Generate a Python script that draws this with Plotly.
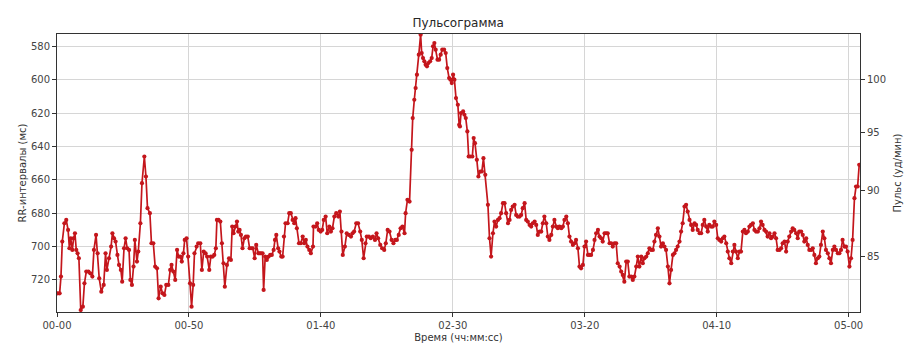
import plotly.graph_objects as go

# ---- data (time in seconds, RR-interval in ms) ----
time_s = [
    0.3, 1.0, 1.5, 2.0, 2.8, 3.5, 4.2, 4.7, 5.2, 5.8, 6.3, 6.8, 7.3, 7.8, 8.3, 9.0, 9.8, 10.4, 11.1, 11.9,
    12.6, 13.4, 14.0, 14.8, 15.4, 16.0, 16.8, 17.7, 18.4, 18.9, 19.7, 20.5, 21.0, 21.6, 22.2, 22.9, 23.5, 24.2, 24.7, 25.4,
    26.0, 26.6, 27.3, 27.8, 28.4, 29.0, 29.5, 30.3, 30.8, 31.6, 32.2, 33.1, 33.7, 34.3, 35.2, 35.8, 36.5, 37.2, 37.9, 38.5,
    39.3, 40.0, 40.7, 41.4, 42.2, 42.9, 43.4, 44.1, 44.8, 45.5,
    46.1, 46.7, 47.3, 47.9, 48.4, 49.1, 49.7, 50.4, 51.0, 51.6,
    52.1, 52.9, 53.5, 54.3, 54.9, 55.6, 56.3, 56.9, 57.7, 58.3,
    59.0, 59.6, 60.2, 60.6, 61.2, 61.9, 62.5, 63.1, 63.6, 64.4,
    65.2, 65.9, 66.4, 66.9, 67.6, 68.2, 68.7, 69.2, 69.7, 70.3,
    71.0, 71.6, 72.3, 73.0, 73.6, 74.2, 74.9, 75.5, 76.3, 76.8,
    77.3, 77.9, 78.3, 78.9, 79.5, 80.2, 80.8, 81.4, 82.1, 82.6,
    83.1, 83.8, 84.3, 85.0, 85.5, 86.0, 86.6, 87.4, 88.0, 88.6,
    89.3, 89.9, 90.4, 90.9, 91.7, 92.4, 93.1, 93.7, 94.3, 94.9,
    95.6, 96.2, 97.0, 97.2, 98.0, 98.6, 99.2, 99.9, 100.5, 101.1,
    101.8, 102.4, 103.2, 103.8, 104.4, 105.1, 105.8, 106.6, 107.2, 107.8,
    108.3, 109.1, 109.8, 110.6, 111.4, 112.0, 112.6, 113.4, 114.1, 114.9,
    115.5, 116.2, 116.9, 117.4, 118.2, 118.9, 119.7, 120.5, 121.1, 121.7,
    122.5, 123.2, 124.0, 124.6, 125.3, 126.0, 126.8, 127.5, 128.2, 128.8,
    129.5, 130.2, 130.9, 131.7, 132.1, 132.8, 133.6,
    134.4, 134.8, 135.4, 135.9, 136.4, 137.1, 137.8, 138.2, 138.7, 139.2,
    139.7, 140.2, 140.7, 141.4, 142.0, 142.5, 143.0, 143.5, 144.2, 144.8,
    145.4, 146.0, 146.7, 147.3, 147.9, 148.6, 149.1, 149.6, 150.1, 150.6,
    151.2, 151.9, 152.4, 152.7, 153.1, 153.9, 154.4, 154.9, 155.5, 156.0,
    156.6, 157.4, 157.9, 158.4, 159.1,
    159.7, 160.4, 161.0, 161.6, 162.3, 163.3, 163.9, 164.5, 165.2,
    165.8, 166.4, 167.1, 167.7, 168.3, 169.0, 169.6, 170.2, 170.9, 171.5,
    172.1, 172.7, 173.4, 174.0, 174.6, 175.3, 175.9, 176.5, 177.2, 177.8,
    178.4, 179.1, 179.7, 180.3, 181.0, 181.6, 182.2, 182.9, 183.5, 184.1,
    184.7, 185.4, 186.0, 186.6, 187.3, 187.9, 188.5, 189.2, 189.8, 190.4,
    191.1, 191.7, 192.3, 193.0, 193.6, 194.2, 194.8, 195.5, 196.1, 196.7,
    197.4, 198.0, 198.6, 199.3, 199.9, 200.5, 201.2, 201.8, 202.4, 203.1,
    203.7, 204.3, 205.0, 205.6, 206.2, 206.8, 207.5, 208.1, 208.7, 209.4,
    210.0, 210.6, 211.3, 211.9, 212.5, 213.2, 213.8, 214.4, 215.0, 215.7,
    216.3, 216.9, 217.6, 218.2, 218.8, 219.5, 220.1, 220.7, 221.4, 222.0,
    222.6, 223.3, 223.9, 224.5, 225.1, 225.8, 226.4, 227.0, 227.7, 228.3,
    228.9, 229.6, 230.2, 230.8, 231.5, 232.1, 232.7, 233.4, 234.0, 234.6,
    235.2, 235.9, 236.5, 237.1, 237.8, 238.4, 239.0, 239.7, 240.3, 240.9,
    241.6, 242.2, 242.8, 243.5, 244.1, 244.7, 245.3, 246.0, 246.6, 247.2,
    247.9, 248.5, 249.1, 249.8, 250.4, 251.0, 251.7, 252.3, 252.9, 253.6,
    254.2, 254.8, 255.5, 256.1, 256.7, 257.3, 258.0, 258.6, 259.2, 259.9,
    260.5, 261.1, 261.8, 262.4, 263.0, 263.7, 264.3, 264.9, 265.6, 266.2,
    266.8, 267.4, 268.1, 268.7, 269.3, 270.0, 270.6, 271.2, 271.9, 272.5,
    273.1, 273.8, 274.4, 275.0, 275.7, 276.3, 276.9, 277.5, 278.2, 278.8,
    279.4, 280.1, 280.7, 281.3, 282.0, 282.6, 283.2, 283.9, 284.5, 285.1,
    285.8, 286.4, 287.0, 287.6, 288.3, 288.9, 289.5, 290.2, 290.8, 291.4,
    292.1, 292.7, 293.3, 294.0, 294.6, 295.2, 295.9, 296.5, 297.1, 297.7,
    298.4, 299.0, 299.6, 300.3, 300.9, 301.5, 302.2, 302.8, 303.4, 304.0,
]

rr_ms = [
    728, 728, 718, 697, 686, 684, 690, 701, 695, 702, 695, 692, 702, 704, 707, 738, 736, 722, 715, 715,
    716, 718, 702, 693, 704, 719, 727, 723, 704, 714, 707, 700, 692, 695, 697, 705, 711, 714, 721, 701,
    695, 701, 702, 720, 723, 712, 696, 709, 703, 686, 662, 646, 658, 677, 680, 698, 698, 712, 713, 731,
    724, 728, 729, 723, 723, 714, 711, 715, 720, 702,
    706, 706, 709, 704, 696, 695, 706, 722, 736, 723,
    704, 700, 698, 698, 714, 703, 704, 706, 714, 706,
    706, 705, 701, 684, 684, 685, 698, 710, 724, 711,
    707, 708, 688, 692, 688, 685, 691, 690, 693, 701,
    695, 694, 694, 701, 701, 701, 707, 699, 704, 704,
    704, 704, 726, 706, 708, 706, 705, 705, 702, 696,
    693, 701, 703, 706, 706, 694, 686, 686, 680, 680,
    684, 686, 683, 689, 698, 698, 694, 698, 696, 700,
    702, 704, 700, 688, 688, 686, 690, 691, 690, 684,
    682, 692, 688, 691, 689, 682, 680, 682, 679, 691,
    705, 700, 692, 693, 694, 692, 691, 686, 686, 691,
    696, 707, 698, 694, 694, 695, 694, 696, 692, 695,
    699, 701, 702, 698, 690, 691, 696, 698, 696, 696,
    693, 689, 688, 692, 680, 672, 673,
    642, 623, 612, 605, 597, 585, 573, 584, 587, 589,
    591, 592, 590, 589, 587, 580, 578, 582, 588, 588,
    585, 582, 582, 584, 593, 599, 600, 602, 597, 600,
    611, 615, 627, 628, 620, 619, 621, 623, 631, 646,
    646, 646, 635, 638, 648,
    658, 655, 655, 647, 657, 675, 695, 706, 692,
    685, 688, 684, 683, 680, 674, 674, 680, 686, 684,
    678, 676, 675, 681, 682, 682, 681, 677, 674, 684,
    685, 687, 688, 686, 685, 687, 693, 691, 691, 686,
    682, 686, 694, 696, 693, 688, 684, 688, 689, 688,
    689, 688, 684, 682, 686, 694, 697, 699, 698, 696,
    701, 712, 713, 711, 700, 697, 705, 705, 705, 702,
    696, 692, 690, 694, 695, 697, 692, 692, 692, 698,
    698, 700, 698, 698, 710, 712, 715, 717, 721, 709,
    709, 718, 718, 720, 718, 712, 706, 712, 706, 710,
    707, 706, 704, 701, 702, 702, 697, 693, 689, 694,
    700, 698, 700, 702, 712, 722, 714, 705, 704, 702,
    700, 697, 691, 686, 676, 675, 679, 684, 687, 690,
    686, 687, 690, 692, 692, 687, 684, 688, 691, 687,
    688, 688, 685, 687, 695, 696, 697, 695, 694, 698,
    703, 707, 710, 703, 699, 703, 707, 703, 703, 691,
    690, 692, 691, 688, 687, 686, 690, 691, 691, 689,
    685, 687, 690, 691, 694, 692, 695, 694, 692, 695,
    702, 702, 701, 698, 697, 703, 697, 694, 691, 689,
    690, 692, 695, 691, 691, 693, 697, 695, 699, 702,
    702, 701, 705, 710, 707, 706, 699, 691, 695, 702,
    704, 707, 710, 702, 700, 702, 704, 704, 702, 696,
    700, 700, 703, 712, 707, 696, 671, 664, 664, 651,
]

x_tick_seconds = [0, 50, 100, 150, 200, 250, 300]
x_tick_labels = ["00-00", "00-50", "01-40", "02-30", "03-20", "04-10", "05-00"]
rr_ticks = [580, 600, 620, 640, 660, 680, 700, 720]
pulse_ticks = [100, 95, 90, 85]

n = min(len(time_s), len(rr_ms))
time_s = time_s[:n]
rr_ms = rr_ms[:n]

FONT = "DejaVu Sans"
AX = "#333333"
GRID = "#d6d6d6"
LINE = "#c4161c"
y_range = [739.2, 572.6]

fig = go.Figure()
fig.add_trace(go.Scatter(
    x=time_s, y=rr_ms, mode="lines+markers",
    line=dict(color=LINE, width=1.7),
    marker=dict(color=LINE, size=4.2),
    showlegend=False, cliponaxis=True,
))
# invisible trace to activate the secondary (pulse) axis
fig.add_trace(go.Scatter(
    x=time_s, y=rr_ms, yaxis="y2", mode="lines",
    line=dict(color="rgba(0,0,0,0)", width=0),
    hoverinfo="skip", showlegend=False,
))

axis_common = dict(
    showline=True, linecolor=AX, linewidth=1,
    ticks="outside", ticklen=4, tickcolor=AX, tickwidth=1,
    tickfont=dict(family=FONT, size=10, color="#444444"),
    zeroline=False, automargin=False,
)

fig.update_layout(
    width=920, height=347,
    margin=dict(l=57, r=60, t=34, b=35),
    paper_bgcolor="white", plot_bgcolor="white",
    font=dict(family=FONT, color="#333333"),
    title=dict(text="Пульсограмма", x=0.498, xanchor="center",
               y=1 - 23 / 347, yanchor="middle", yref="container",
               font=dict(family=FONT, size=12, color="#262626")),
    xaxis=dict(
        range=[0, 304.3], tickmode="array",
        tickvals=x_tick_seconds, ticktext=x_tick_labels,
        showgrid=True, gridcolor=GRID, gridwidth=1, mirror=True,
        ticklabelstandoff=0,
        title=dict(text="Время (чч:мм:сс)", standoff=3,
                   font=dict(family=FONT, size=10, color="#333333")),
        **axis_common,
    ),
    yaxis=dict(
        range=y_range, tickmode="array", tickvals=rr_ticks,
        ticktext=[str(v) for v in rr_ticks],
        showgrid=True, gridcolor=GRID, gridwidth=1, mirror=True,
        title=dict(text="RR-интервалы (мс)", standoff=2,
                   font=dict(family=FONT, size=10, color="#333333")),
        **axis_common,
    ),
    yaxis2=dict(
        overlaying="y", side="right", anchor="x",
        range=y_range, tickmode="array",
        tickvals=[60000 / p for p in pulse_ticks],
        ticktext=[str(p) for p in pulse_ticks],
        showgrid=False,
        title=dict(text="Пульс (уд/мин)", standoff=8,
                   font=dict(family=FONT, size=10, color="#333333")),
        **axis_common,
    ),
)

fig.write_html("out.html")
